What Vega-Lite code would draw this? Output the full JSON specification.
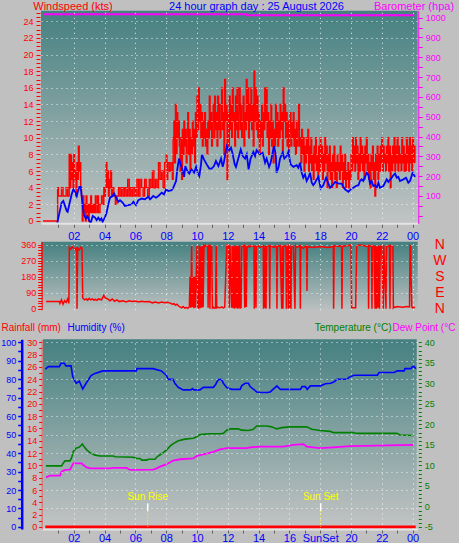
{
"$schema":"https://vega.github.io/schema/vega-lite/v6.json",
"width":459,"height":543,"autosize":{"type":"none"},"padding":0,
"background":"#c0c0c0",
"config":{"view":{"stroke":null},"axis":{"labelFont":"Liberation Sans","titleFont":"Liberation Sans","labelFontSize":9,"titleFontSize":11,"titleFontWeight":"normal","labelOverlap":false,"labelFlush":false,"labelBound":false},"text":{"font":"Liberation Sans"}},
"datasets":{
"one":[{}],
"gust":[{"h":0,"g":0},{"h":0.9,"g":0},{"h":0.95,"g":4},{"h":1.0,"g":3},{"h":1.1,"g":3},{"h":1.2,"g":4},{"h":1.3,"g":3},{"h":1.4,"g":3},{"h":1.5,"g":4},{"h":1.6,"g":3},{"h":1.7,"g":8},{"h":1.75,"g":4},{"h":1.8,"g":8},{"h":1.85,"g":5},{"h":1.9,"g":7},{"h":1.95,"g":4},{"h":2.0,"g":8},{"h":2.05,"g":5},{"h":2.1,"g":6},{"h":2.15,"g":3},{"h":2.2,"g":7},{"h":2.25,"g":5},{"h":2.3,"g":9},{"h":2.35,"g":6},{"h":2.4,"g":7},{"h":2.45,"g":4},{"h":2.5,"g":3},{"h":2.55,"g":0},{"h":2.6,"g":3},{"h":2.65,"g":1},{"h":2.7,"g":2},{"h":2.75,"g":0},{"h":2.8,"g":3},{"h":2.85,"g":1},{"h":2.9,"g":2},{"h":2.95,"g":0},{"h":3.0,"g":2},{"h":3.05,"g":1},{"h":3.1,"g":3},{"h":3.15,"g":1},{"h":3.2,"g":2},{"h":3.25,"g":1},{"h":3.3,"g":2},{"h":3.35,"g":1},{"h":3.4,"g":3},{"h":3.45,"g":2},{"h":3.5,"g":1},{"h":3.55,"g":3},{"h":3.6,"g":1},{"h":3.7,"g":2},{"h":3.8,"g":3},{"h":3.9,"g":2},{"h":3.95,"g":4},{"h":4.0,"g":3},{"h":4.05,"g":4},{"h":4.1,"g":7},{"h":4.15,"g":4},{"h":4.2,"g":6},{"h":4.25,"g":3},{"h":4.3,"g":5},{"h":4.35,"g":4},{"h":4.4,"g":6},{"h":4.45,"g":3},{"h":4.5,"g":4},{"h":4.6,"g":3},{"h":4.7,"g":2},{"h":4.8,"g":3},{"h":4.9,"g":4},{"h":5.0,"g":3},{"h":5.1,"g":4},{"h":5.2,"g":3},{"h":5.3,"g":4},{"h":5.4,"g":3},{"h":5.5,"g":5},{"h":5.6,"g":3},{"h":5.7,"g":4},{"h":5.8,"g":3},{"h":5.9,"g":4},{"h":6.0,"g":3},{"h":6.1,"g":5},{"h":6.2,"g":3},{"h":6.3,"g":5},{"h":6.4,"g":4},{"h":6.5,"g":3},{"h":6.6,"g":5},{"h":6.7,"g":4},{"h":6.8,"g":3},{"h":6.9,"g":5},{"h":7.0,"g":4},{"h":7.1,"g":6},{"h":7.2,"g":4},{"h":7.3,"g":5},{"h":7.4,"g":4},{"h":7.5,"g":7},{"h":7.6,"g":5},{"h":7.7,"g":6},{"h":7.8,"g":4},{"h":7.9,"g":7},{"h":8.0,"g":8},{"h":8.05,"g":5},{"h":8.1,"g":7},{"h":8.2,"g":6},{"h":8.3,"g":7},{"h":8.4,"g":5},{"h":8.45,"g":10},{"h":8.5,"g":12},{"h":8.55,"g":7},{"h":8.6,"g":14},{"h":8.65,"g":8},{"h":8.7,"g":13},{"h":8.75,"g":10},{"h":8.8,"g":12},{"h":8.85,"g":9},{"h":8.9,"g":6},{"h":8.95,"g":10},{"h":9.0,"g":5},{"h":9.05,"g":11},{"h":9.1,"g":8},{"h":9.15,"g":12},{"h":9.2,"g":9},{"h":9.25,"g":11},{"h":9.3,"g":7},{"h":9.35,"g":10},{"h":9.4,"g":13},{"h":9.45,"g":8},{"h":9.5,"g":11},{"h":9.55,"g":6},{"h":9.6,"g":10},{"h":9.65,"g":8},{"h":9.7,"g":12},{"h":9.75,"g":9},{"h":9.8,"g":11},{"h":9.85,"g":7},{"h":9.9,"g":13},{"h":9.95,"g":10},{"h":10.0,"g":15},{"h":10.05,"g":11},{"h":10.1,"g":16},{"h":10.15,"g":12},{"h":10.2,"g":14},{"h":10.25,"g":10},{"h":10.3,"g":13},{"h":10.35,"g":9},{"h":10.4,"g":12},{"h":10.45,"g":10},{"h":10.5,"g":13},{"h":10.55,"g":9},{"h":10.6,"g":11},{"h":10.65,"g":8},{"h":10.7,"g":12},{"h":10.75,"g":10},{"h":10.8,"g":15},{"h":10.85,"g":11},{"h":10.9,"g":13},{"h":10.95,"g":9},{"h":11.0,"g":12},{"h":11.05,"g":14},{"h":11.1,"g":10},{"h":11.15,"g":15},{"h":11.2,"g":11},{"h":11.25,"g":13},{"h":11.3,"g":9},{"h":11.35,"g":15},{"h":11.4,"g":11},{"h":11.45,"g":14},{"h":11.5,"g":10},{"h":11.55,"g":12},{"h":11.6,"g":16},{"h":11.65,"g":11},{"h":11.7,"g":13},{"h":11.75,"g":8},{"h":11.8,"g":17},{"h":11.85,"g":12},{"h":11.9,"g":14},{"h":11.95,"g":5},{"h":12.0,"g":13},{"h":12.05,"g":9},{"h":12.1,"g":15},{"h":12.15,"g":11},{"h":12.2,"g":14},{"h":12.25,"g":10},{"h":12.3,"g":16},{"h":12.35,"g":12},{"h":12.4,"g":13},{"h":12.45,"g":9},{"h":12.5,"g":15},{"h":12.55,"g":11},{"h":12.6,"g":16},{"h":12.65,"g":10},{"h":12.7,"g":13},{"h":12.75,"g":16},{"h":12.8,"g":11},{"h":12.85,"g":14},{"h":12.9,"g":10},{"h":12.95,"g":12},{"h":13.0,"g":15},{"h":13.05,"g":9},{"h":13.1,"g":13},{"h":13.15,"g":11},{"h":13.2,"g":17},{"h":13.25,"g":12},{"h":13.3,"g":16},{"h":13.35,"g":10},{"h":13.4,"g":14},{"h":13.45,"g":12},{"h":13.5,"g":16},{"h":13.55,"g":11},{"h":13.6,"g":14},{"h":13.65,"g":9},{"h":13.7,"g":18},{"h":13.75,"g":12},{"h":13.8,"g":16},{"h":13.85,"g":11},{"h":13.9,"g":15},{"h":13.95,"g":10},{"h":14.0,"g":13},{"h":14.05,"g":8},{"h":14.1,"g":12},{"h":14.15,"g":10},{"h":14.2,"g":14},{"h":14.25,"g":9},{"h":14.3,"g":13},{"h":14.35,"g":11},{"h":14.4,"g":16},{"h":14.45,"g":12},{"h":14.5,"g":16},{"h":14.55,"g":10},{"h":14.6,"g":13},{"h":14.65,"g":8},{"h":14.7,"g":12},{"h":14.75,"g":10},{"h":14.8,"g":14},{"h":14.85,"g":9},{"h":14.9,"g":12},{"h":14.95,"g":7},{"h":15.0,"g":11},{"h":15.05,"g":9},{"h":15.1,"g":14},{"h":15.15,"g":10},{"h":15.2,"g":13},{"h":15.25,"g":9},{"h":15.3,"g":12},{"h":15.35,"g":10},{"h":15.4,"g":14},{"h":15.45,"g":11},{"h":15.5,"g":13},{"h":15.55,"g":8},{"h":15.6,"g":16},{"h":15.65,"g":12},{"h":15.7,"g":14},{"h":15.75,"g":10},{"h":15.8,"g":13},{"h":15.85,"g":9},{"h":15.9,"g":12},{"h":15.95,"g":8},{"h":16.0,"g":11},{"h":16.05,"g":13},{"h":16.1,"g":9},{"h":16.15,"g":12},{"h":16.2,"g":10},{"h":16.25,"g":13},{"h":16.3,"g":9},{"h":16.35,"g":11},{"h":16.4,"g":8},{"h":16.45,"g":12},{"h":16.5,"g":9},{"h":16.55,"g":11},{"h":16.6,"g":14},{"h":16.65,"g":9},{"h":16.7,"g":10},{"h":16.75,"g":7},{"h":16.8,"g":11},{"h":16.85,"g":8},{"h":16.9,"g":10},{"h":16.95,"g":6},{"h":17.0,"g":9},{"h":17.05,"g":7},{"h":17.1,"g":10},{"h":17.15,"g":8},{"h":17.2,"g":11},{"h":17.25,"g":6},{"h":17.3,"g":9},{"h":17.35,"g":7},{"h":17.4,"g":10},{"h":17.45,"g":6},{"h":17.5,"g":8},{"h":17.55,"g":5},{"h":17.6,"g":9},{"h":17.65,"g":7},{"h":17.7,"g":10},{"h":17.75,"g":6},{"h":17.8,"g":8},{"h":17.85,"g":5},{"h":17.9,"g":9},{"h":17.95,"g":6},{"h":18.0,"g":10},{"h":18.05,"g":7},{"h":18.1,"g":9},{"h":18.15,"g":5},{"h":18.2,"g":8},{"h":18.25,"g":6},{"h":18.3,"g":10},{"h":18.35,"g":7},{"h":18.4,"g":9},{"h":18.45,"g":4},{"h":18.5,"g":8},{"h":18.55,"g":6},{"h":18.6,"g":9},{"h":18.65,"g":5},{"h":18.7,"g":7},{"h":18.75,"g":4},{"h":18.8,"g":8},{"h":18.85,"g":6},{"h":18.9,"g":9},{"h":18.95,"g":5},{"h":19.0,"g":7},{"h":19.05,"g":4},{"h":19.1,"g":8},{"h":19.15,"g":6},{"h":19.2,"g":7},{"h":19.25,"g":5},{"h":19.3,"g":9},{"h":19.35,"g":6},{"h":19.4,"g":8},{"h":19.45,"g":4},{"h":19.5,"g":7},{"h":19.55,"g":5},{"h":19.6,"g":8},{"h":19.65,"g":4},{"h":19.7,"g":6},{"h":19.75,"g":5},{"h":19.8,"g":7},{"h":19.85,"g":4},{"h":19.9,"g":6},{"h":19.95,"g":5},{"h":20.0,"g":8},{"h":20.05,"g":6},{"h":20.1,"g":10},{"h":20.15,"g":7},{"h":20.2,"g":9},{"h":20.25,"g":6},{"h":20.3,"g":10},{"h":20.35,"g":7},{"h":20.4,"g":9},{"h":20.45,"g":5},{"h":20.5,"g":8},{"h":20.55,"g":6},{"h":20.6,"g":10},{"h":20.65,"g":7},{"h":20.7,"g":9},{"h":20.75,"g":6},{"h":20.8,"g":8},{"h":20.85,"g":5},{"h":20.9,"g":9},{"h":20.95,"g":7},{"h":21.0,"g":10},{"h":21.05,"g":6},{"h":21.1,"g":8},{"h":21.15,"g":5},{"h":21.2,"g":7},{"h":21.25,"g":4},{"h":21.3,"g":8},{"h":21.35,"g":6},{"h":21.4,"g":9},{"h":21.45,"g":5},{"h":21.5,"g":7},{"h":21.55,"g":3},{"h":21.6,"g":8},{"h":21.65,"g":6},{"h":21.7,"g":9},{"h":21.75,"g":5},{"h":21.8,"g":8},{"h":21.85,"g":6},{"h":21.9,"g":9},{"h":21.95,"g":7},{"h":22.0,"g":10},{"h":22.05,"g":6},{"h":22.1,"g":9},{"h":22.15,"g":7},{"h":22.2,"g":8},{"h":22.25,"g":6},{"h":22.3,"g":9},{"h":22.35,"g":7},{"h":22.4,"g":10},{"h":22.45,"g":6},{"h":22.5,"g":9},{"h":22.55,"g":4},{"h":22.6,"g":8},{"h":22.65,"g":6},{"h":22.7,"g":9},{"h":22.75,"g":7},{"h":22.8,"g":10},{"h":22.85,"g":6},{"h":22.9,"g":9},{"h":22.95,"g":7},{"h":23.0,"g":10},{"h":23.05,"g":6},{"h":23.1,"g":9},{"h":23.15,"g":7},{"h":23.2,"g":8},{"h":23.25,"g":6},{"h":23.3,"g":10},{"h":23.35,"g":7},{"h":23.4,"g":9},{"h":23.45,"g":6},{"h":23.5,"g":8},{"h":23.55,"g":6},{"h":23.6,"g":10},{"h":23.65,"g":7},{"h":23.7,"g":9},{"h":23.75,"g":6},{"h":23.8,"g":10},{"h":23.85,"g":7},{"h":23.9,"g":9},{"h":23.95,"g":6},{"h":24.0,"g":10},{"h":24.05,"g":7},{"h":24.1,"g":9},{"h":24.15,"g":7}],
"avg":[{"h":0.93,"a":-0.2},{"h":1.21,"a":2.2},{"h":1.32,"a":2.4},{"h":1.54,"a":1.2},{"h":1.6,"a":1.1},{"h":1.86,"a":3.2},{"h":1.97,"a":3.8},{"h":2.08,"a":3.5},{"h":2.19,"a":3.0},{"h":2.23,"a":3.3},{"h":2.36,"a":4.1},{"h":2.45,"a":4.1},{"h":2.51,"a":3.0},{"h":2.58,"a":1.8},{"h":2.66,"a":0.7},{"h":2.79,"a":0.3},{"h":2.88,"a":0.6},{"h":3.01,"a":0.0},{"h":3.1,"a":-0.2},{"h":3.23,"a":0.6},{"h":3.38,"a":0.4},{"h":3.48,"a":0.1},{"h":3.59,"a":0.4},{"h":3.7,"a":0.1},{"h":3.79,"a":0.3},{"h":3.87,"a":-0.1},{"h":4.03,"a":0.5},{"h":4.13,"a":1.0},{"h":4.24,"a":2.0},{"h":4.35,"a":2.8},{"h":4.52,"a":3.0},{"h":4.61,"a":3.3},{"h":4.78,"a":2.7},{"h":4.89,"a":2.3},{"h":5.0,"a":2.5},{"h":5.17,"a":2.2},{"h":5.32,"a":1.8},{"h":5.54,"a":1.9},{"h":5.76,"a":2.0},{"h":5.87,"a":2.3},{"h":6.04,"a":1.9},{"h":6.19,"a":2.5},{"h":6.41,"a":2.7},{"h":6.62,"a":2.6},{"h":6.84,"a":2.9},{"h":6.95,"a":2.6},{"h":7.16,"a":3.0},{"h":7.34,"a":2.8},{"h":7.49,"a":3.0},{"h":7.71,"a":3.4},{"h":7.86,"a":3.2},{"h":7.99,"a":3.8},{"h":8.14,"a":3.6},{"h":8.35,"a":3.7},{"h":8.46,"a":4.0},{"h":8.64,"a":4.8},{"h":8.72,"a":6.2},{"h":8.83,"a":7.5},{"h":8.94,"a":6.8},{"h":9.07,"a":6.0},{"h":9.16,"a":5.3},{"h":9.24,"a":6.6},{"h":9.37,"a":6.0},{"h":9.5,"a":5.7},{"h":9.65,"a":6.2},{"h":9.81,"a":5.8},{"h":9.94,"a":6.5},{"h":10.04,"a":5.8},{"h":10.15,"a":5.4},{"h":10.26,"a":6.8},{"h":10.32,"a":8.0},{"h":10.45,"a":7.4},{"h":10.63,"a":6.8},{"h":10.8,"a":6.3},{"h":10.95,"a":6.3},{"h":11.1,"a":6.6},{"h":11.23,"a":7.2},{"h":11.39,"a":6.6},{"h":11.56,"a":7.5},{"h":11.67,"a":6.5},{"h":11.75,"a":7.1},{"h":11.93,"a":9.0},{"h":12.1,"a":8.5},{"h":12.21,"a":8.8},{"h":12.32,"a":8.0},{"h":12.45,"a":6.8},{"h":12.53,"a":6.5},{"h":12.68,"a":7.5},{"h":12.84,"a":8.6},{"h":12.97,"a":7.8},{"h":13.12,"a":7.5},{"h":13.23,"a":8.0},{"h":13.35,"a":6.2},{"h":13.48,"a":7.5},{"h":13.66,"a":8.3},{"h":13.77,"a":7.8},{"h":13.87,"a":8.5},{"h":14.09,"a":8.0},{"h":14.26,"a":8.2},{"h":14.42,"a":7.0},{"h":14.52,"a":7.5},{"h":14.68,"a":6.5},{"h":14.78,"a":7.0},{"h":14.91,"a":8.2},{"h":15.0,"a":9.0},{"h":15.11,"a":8.0},{"h":15.17,"a":5.8},{"h":15.3,"a":6.5},{"h":15.39,"a":7.5},{"h":15.56,"a":8.2},{"h":15.67,"a":7.5},{"h":15.82,"a":7.8},{"h":15.93,"a":8.3},{"h":16.08,"a":6.8},{"h":16.26,"a":6.5},{"h":16.47,"a":6.7},{"h":16.58,"a":6.4},{"h":16.69,"a":7.0},{"h":16.8,"a":5.8},{"h":16.9,"a":5.2},{"h":17.01,"a":5.6},{"h":17.12,"a":4.8},{"h":17.23,"a":5.2},{"h":17.34,"a":5.8},{"h":17.45,"a":4.6},{"h":17.55,"a":4.3},{"h":17.66,"a":4.6},{"h":17.77,"a":5.0},{"h":17.88,"a":5.3},{"h":18.03,"a":3.9},{"h":18.2,"a":4.3},{"h":18.38,"a":5.2},{"h":18.53,"a":4.5},{"h":18.64,"a":4.0},{"h":18.81,"a":4.3},{"h":18.96,"a":4.7},{"h":19.18,"a":4.5},{"h":19.39,"a":4.5},{"h":19.5,"a":4.1},{"h":19.61,"a":3.8},{"h":19.83,"a":3.5},{"h":19.98,"a":3.8},{"h":20.15,"a":4.0},{"h":20.32,"a":4.2},{"h":20.48,"a":4.3},{"h":20.58,"a":4.8},{"h":20.69,"a":5.0},{"h":20.8,"a":4.8},{"h":20.91,"a":5.3},{"h":21.02,"a":5.8},{"h":21.13,"a":5.5},{"h":21.23,"a":4.5},{"h":21.34,"a":4.8},{"h":21.45,"a":4.2},{"h":21.56,"a":4.3},{"h":21.67,"a":4.0},{"h":21.78,"a":4.6},{"h":21.88,"a":4.0},{"h":22.1,"a":4.2},{"h":22.32,"a":5.0},{"h":22.42,"a":4.7},{"h":22.64,"a":5.2},{"h":22.75,"a":5.5},{"h":22.86,"a":5.7},{"h":22.97,"a":5.2},{"h":23.07,"a":5.3},{"h":23.18,"a":4.8},{"h":23.4,"a":5.0},{"h":23.57,"a":5.2},{"h":23.72,"a":4.6},{"h":23.83,"a":4.8},{"h":24.0,"a":5.8},{"h":24.16,"a":5.3}],
"baro":[{"h":0.0,"p":1017},{"h":13.2,"p":1017},{"h":13.21,"p":1012},{"h":24.1,"p":1012}],
"dir":[{"h":0.2,"d":40},{"h":1.06,"d":40},{"h":1.1,"d":30},{"h":1.2,"d":50},{"h":1.3,"d":25},{"h":1.4,"d":45},{"h":1.5,"d":35},{"h":1.6,"d":55},{"h":1.68,"d":30},{"h":1.71,"d":345},{"h":1.8,"d":335},{"h":1.9,"d":350},{"h":2.0,"d":340},{"h":2.1,"d":330},{"h":2.19,"d":345},{"h":2.21,"d":0},{"h":2.25,"d":340},{"h":2.35,"d":330},{"h":2.45,"d":345},{"h":2.53,"d":340},{"h":2.58,"d":60},{"h":2.7,"d":50},{"h":2.8,"d":55},{"h":2.9,"d":48},{"h":3.0,"d":58},{"h":3.1,"d":50},{"h":3.2,"d":55},{"h":3.3,"d":48},{"h":3.4,"d":52},{"h":3.5,"d":47},{"h":3.6,"d":55},{"h":3.8,"d":50},{"h":3.95,"d":75},{"h":4.05,"d":60},{"h":4.2,"d":55},{"h":4.35,"d":45},{"h":4.5,"d":55},{"h":4.65,"d":42},{"h":4.8,"d":50},{"h":4.95,"d":40},{"h":5.2,"d":45},{"h":5.4,"d":38},{"h":5.6,"d":44},{"h":5.8,"d":40},{"h":6.0,"d":43},{"h":6.2,"d":38},{"h":6.4,"d":42},{"h":6.6,"d":39},{"h":6.9,"d":40},{"h":7.1,"d":33},{"h":7.3,"d":38},{"h":7.5,"d":32},{"h":7.7,"d":37},{"h":7.9,"d":33},{"h":8.1,"d":36},{"h":8.3,"d":30},{"h":8.4,"d":25},{"h":8.5,"d":28},{"h":8.6,"d":20},{"h":8.7,"d":25},{"h":8.8,"d":15},{"h":8.9,"d":10},{"h":9.0,"d":5},{"h":9.1,"d":12},{"h":9.2,"d":3},{"h":9.3,"d":8},{"h":9.4,"d":2},{"h":9.5,"d":10},{"h":9.55,"d":180},{"h":9.6,"d":5},{"h":9.65,"d":355},{"h":9.7,"d":8},{"h":9.75,"d":180},{"h":9.8,"d":3},{"h":9.85,"d":180},{"h":9.9,"d":6},{"h":10.0,"d":355},{"h":10.05,"d":10},{"h":10.1,"d":5},{"h":10.15,"d":355},{"h":10.2,"d":3},{"h":10.25,"d":350},{"h":10.3,"d":5},{"h":10.35,"d":355},{"h":10.4,"d":8},{"h":10.45,"d":355},{"h":10.5,"d":350},{"h":10.55,"d":358},{"h":10.6,"d":352},{"h":10.7,"d":355},{"h":10.72,"d":5},{"h":10.75,"d":350},{"h":10.8,"d":355},{"h":10.84,"d":0},{"h":10.87,"d":355},{"h":10.95,"d":350},{"h":11.0,"d":5},{"h":11.05,"d":10},{"h":11.1,"d":3},{"h":11.2,"d":5},{"h":11.25,"d":355},{"h":11.28,"d":5},{"h":11.35,"d":8},{"h":11.5,"d":5},{"h":11.6,"d":10},{"h":11.7,"d":5},{"h":11.8,"d":8},{"h":11.93,"d":355},{"h":12.0,"d":350},{"h":12.05,"d":355},{"h":12.1,"d":5},{"h":12.14,"d":355},{"h":12.2,"d":180},{"h":12.25,"d":5},{"h":12.3,"d":355},{"h":12.35,"d":3},{"h":12.4,"d":350},{"h":12.45,"d":0},{"h":12.5,"d":355},{"h":12.53,"d":5},{"h":12.56,"d":358},{"h":12.6,"d":2},{"h":12.63,"d":355},{"h":12.66,"d":0},{"h":12.7,"d":350},{"h":12.73,"d":5},{"h":12.76,"d":355},{"h":12.8,"d":0},{"h":12.83,"d":180},{"h":12.86,"d":3},{"h":12.9,"d":355},{"h":13.0,"d":350},{"h":13.05,"d":355},{"h":13.1,"d":5},{"h":13.15,"d":355},{"h":13.2,"d":10},{"h":13.25,"d":350},{"h":13.3,"d":355},{"h":13.4,"d":345},{"h":13.5,"d":355},{"h":13.7,"d":350},{"h":13.72,"d":0},{"h":13.75,"d":355},{"h":13.83,"d":5},{"h":13.86,"d":350},{"h":13.95,"d":355},{"h":14.1,"d":345},{"h":14.3,"d":355},{"h":14.32,"d":0},{"h":14.36,"d":350},{"h":14.4,"d":5},{"h":14.44,"d":355},{"h":14.48,"d":0},{"h":14.52,"d":350},{"h":14.6,"d":355},{"h":14.7,"d":350},{"h":14.72,"d":0},{"h":14.75,"d":355},{"h":15.0,"d":345},{"h":15.17,"d":355},{"h":15.19,"d":0},{"h":15.22,"d":350},{"h":15.4,"d":355},{"h":15.5,"d":0},{"h":15.53,"d":355},{"h":15.58,"d":0},{"h":15.62,"d":350},{"h":15.78,"d":355},{"h":15.8,"d":0},{"h":15.83,"d":350},{"h":15.9,"d":355},{"h":15.93,"d":0},{"h":15.96,"d":355},{"h":16.0,"d":5},{"h":16.03,"d":350},{"h":16.1,"d":0},{"h":16.13,"d":355},{"h":16.26,"d":350},{"h":16.36,"d":0},{"h":16.4,"d":355},{"h":16.5,"d":345},{"h":16.69,"d":355},{"h":16.71,"d":0},{"h":16.74,"d":350},{"h":16.9,"d":340},{"h":17.12,"d":355},{"h":17.14,"d":100},{"h":17.17,"d":350},{"h":17.5,"d":345},{"h":18.0,"d":350},{"h":18.5,"d":345},{"h":18.85,"d":350},{"h":18.87,"d":0},{"h":18.9,"d":355},{"h":19.2,"d":350},{"h":19.39,"d":355},{"h":19.41,"d":0},{"h":19.44,"d":350},{"h":19.8,"d":355},{"h":20.0,"d":358},{"h":20.04,"d":5},{"h":20.3,"d":5},{"h":20.37,"d":355},{"h":20.6,"d":358},{"h":20.8,"d":355},{"h":21.0,"d":350},{"h":21.12,"d":355},{"h":21.14,"d":0},{"h":21.17,"d":355},{"h":21.34,"d":350},{"h":21.36,"d":0},{"h":21.39,"d":355},{"h":21.5,"d":350},{"h":21.56,"d":0},{"h":21.6,"d":355},{"h":21.65,"d":0},{"h":21.7,"d":350},{"h":21.75,"d":5},{"h":21.8,"d":355},{"h":21.85,"d":0},{"h":21.9,"d":350},{"h":22.0,"d":355},{"h":22.1,"d":0},{"h":22.13,"d":355},{"h":22.27,"d":0},{"h":22.3,"d":350},{"h":22.5,"d":355},{"h":22.53,"d":0},{"h":22.56,"d":355},{"h":22.72,"d":350},{"h":22.75,"d":5},{"h":22.8,"d":10},{"h":22.9,"d":8},{"h":23.0,"d":12},{"h":23.2,"d":10},{"h":23.4,"d":8},{"h":23.6,"d":12},{"h":23.8,"d":10},{"h":23.83,"d":355},{"h":23.88,"d":350},{"h":23.9,"d":180},{"h":23.95,"d":10},{"h":24.0,"d":5},{"h":24.1,"d":8},{"h":24.15,"d":5}],
"hum":[{"h":0.15,"u":85.5},{"h":0.35,"u":86.8},{"h":1.06,"u":86.8},{"h":1.17,"u":88.6},{"h":1.38,"u":88.6},{"h":1.49,"u":87.2},{"h":1.82,"u":87.2},{"h":1.93,"u":81.4},{"h":2.15,"u":77.8},{"h":2.36,"u":78.9},{"h":2.58,"u":74.7},{"h":2.8,"u":77.8},{"h":3.12,"u":81.9},{"h":3.34,"u":83},{"h":3.88,"u":84.5},{"h":6.06,"u":84.5},{"h":6.1,"u":85.7},{"h":7.15,"u":85.7},{"h":7.69,"u":84.5},{"h":8.02,"u":82},{"h":8.12,"u":79.9},{"h":8.45,"u":79.9},{"h":8.56,"u":77.8},{"h":8.78,"u":75.6},{"h":9.1,"u":74.2},{"h":9.6,"u":74.2},{"h":9.7,"u":74.9},{"h":9.8,"u":74.2},{"h":10.19,"u":74.2},{"h":10.41,"u":75.6},{"h":11.06,"u":75.6},{"h":11.2,"u":77},{"h":11.38,"u":79.8},{"h":11.6,"u":79.8},{"h":11.71,"u":77.8},{"h":11.93,"u":75.4},{"h":12.25,"u":74.5},{"h":12.8,"u":74.5},{"h":12.9,"u":76.4},{"h":13.12,"u":77.8},{"h":13.34,"u":77.8},{"h":13.45,"u":76},{"h":13.88,"u":73.1},{"h":14.1,"u":72.8},{"h":14.54,"u":72.8},{"h":14.75,"u":73.1},{"h":15.19,"u":76.4},{"h":15.41,"u":74.5},{"h":16.71,"u":74.5},{"h":16.82,"u":76},{"h":17.04,"u":76},{"h":17.15,"u":74.5},{"h":17.36,"u":76.4},{"h":18.02,"u":76.4},{"h":18.34,"u":77.5},{"h":18.67,"u":77.8},{"h":18.89,"u":78.5},{"h":19.1,"u":80},{"h":19.75,"u":80},{"h":19.86,"u":81},{"h":20.19,"u":82.1},{"h":21.71,"u":82.1},{"h":21.82,"u":83.6},{"h":22.8,"u":83.6},{"h":23.0,"u":84.5},{"h":23.45,"u":84.5},{"h":23.5,"u":85.7},{"h":23.88,"u":85.7},{"h":23.99,"u":86.8},{"h":24.1,"u":86.8},{"h":24.21,"u":85.7}],
"temp":[{"h":0.19,"t":9.9},{"h":1.21,"t":9.9},{"h":1.32,"t":10.6},{"h":1.43,"t":11.1},{"h":1.75,"t":11.1},{"h":1.86,"t":11.9},{"h":1.97,"t":13.4},{"h":2.14,"t":14.2},{"h":2.34,"t":14.4},{"h":2.45,"t":14.8},{"h":2.55,"t":15.2},{"h":2.66,"t":14.6},{"h":2.84,"t":13.8},{"h":3.05,"t":13.1},{"h":3.38,"t":12.5},{"h":3.7,"t":12.3},{"h":4.57,"t":12.3},{"h":4.68,"t":12.1},{"h":5.87,"t":12.0},{"h":6.08,"t":11.7},{"h":6.3,"t":11.7},{"h":6.41,"t":11.3},{"h":6.73,"t":11.3},{"h":6.84,"t":11.5},{"h":7.27,"t":11.5},{"h":7.38,"t":12.0},{"h":7.6,"t":12.6},{"h":7.81,"t":13.1},{"h":8.03,"t":13.8},{"h":8.25,"t":14.7},{"h":8.46,"t":15.3},{"h":8.79,"t":16.0},{"h":9.22,"t":16.4},{"h":9.76,"t":16.6},{"h":9.98,"t":17.0},{"h":10.19,"t":17.5},{"h":10.84,"t":17.7},{"h":11.49,"t":17.7},{"h":11.71,"t":17.8},{"h":11.93,"t":18.6},{"h":12.14,"t":18.9},{"h":12.68,"t":18.9},{"h":12.9,"t":18.6},{"h":13.33,"t":18.5},{"h":13.66,"t":18.8},{"h":13.87,"t":19.6},{"h":14.52,"t":19.6},{"h":14.85,"t":19.4},{"h":15.17,"t":18.9},{"h":15.5,"t":19.2},{"h":16.04,"t":19.4},{"h":17.12,"t":19.4},{"h":17.45,"t":18.8},{"h":17.99,"t":18.5},{"h":18.64,"t":18.3},{"h":18.85,"t":18.0},{"h":20.15,"t":18.0},{"h":20.37,"t":17.8},{"h":22.97,"t":17.8},{"h":23.18,"t":17.4},{"h":24.04,"t":17.3}],
"dew":[{"h":0.19,"t":7.1},{"h":0.45,"t":7.5},{"h":1.1,"t":7.5},{"h":1.21,"t":8.5},{"h":1.43,"t":8.9},{"h":1.75,"t":9.0},{"h":1.86,"t":9.7},{"h":1.97,"t":10.5},{"h":2.51,"t":10.5},{"h":2.62,"t":10.1},{"h":2.84,"t":9.5},{"h":3.05,"t":9.3},{"h":4.35,"t":9.3},{"h":4.57,"t":9.4},{"h":5.43,"t":9.4},{"h":5.65,"t":8.9},{"h":7.16,"t":9.0},{"h":7.38,"t":9.3},{"h":7.6,"t":9.7},{"h":8.03,"t":10.3},{"h":8.46,"t":11.2},{"h":8.9,"t":11.5},{"h":9.76,"t":11.7},{"h":9.98,"t":12.3},{"h":10.19,"t":12.5},{"h":10.63,"t":12.9},{"h":11.06,"t":13.3},{"h":11.49,"t":13.9},{"h":11.93,"t":14.2},{"h":13.23,"t":14.2},{"h":13.44,"t":14.4},{"h":14.09,"t":14.6},{"h":15.61,"t":14.6},{"h":16.26,"t":15.0},{"h":16.9,"t":15.2},{"h":17.12,"t":14.6},{"h":17.99,"t":14.2},{"h":18.85,"t":14.4},{"h":19.94,"t":14.7},{"h":24.04,"t":15.0}],
"rain":[{"h":0.15,"r":0},{"h":24.2,"r":0}],
"sun":[{"h":6.8,"t":"Sun Rise"},{"h":18.03,"t":"Sun Set"}]
},
"layer":[
{"data":{"name":"one"},"mark":{"type":"rect","fill":{"gradient":"linear","x1":0,"y1":0,"x2":0,"y2":1,"stops":[{"offset":0,"color":"#458080"},{"offset":1,"color":"#c2c4c4"}]}},
 "encoding":{
  "x":{"datum":-0.13,"type":"quantitative","scale":{"domain":[-0.13,24.33],"range":[41,417.7],"nice":false,"zero":false},"axis":{"orient":"top","values":[2,4,6,8,10,12,14,16,18,20,22,24],"grid":true,"gridColor":"#ffffff","gridDash":[1,4],"gridOpacity":0.85,"labels":false,"ticks":false,"domain":false,"title":null,"zindex":1}},
  "x2":{"datum":24.33},
  "y":{"datum":-0.28,"type":"quantitative","scale":{"domain":[-0.28,25.27],"range":[223.3,10.7],"nice":false,"zero":false},"axis":{"orient":"left","offset":-40,"values":[0,0.5,1,1.5,2,2.5,3,3.5,4,4.5,5,5.5,6,6.5,7,7.5,8,8.5,9,9.5,10,10.5,11,11.5,12,12.5,13,13.5,14,14.5,15,15.5,16,16.5,17,17.5,18,18.5,19,19.5,20,20.5,21,21.5,22,22.5,23,23.5,24,24.5,25],"labelExpr":"datum.value % 2 === 0 ? datum.value : ''","labelColor":"#ff0000","labelPadding":3,"tickColor":"#ff0000","tickSize":4,"domain":false,"grid":true,"gridColor":"#ffffff","gridDash":[1,4],"gridOpacity":{"condition":{"test":"datum.value % 2 === 0 && datum.value > 0","value":0.85},"value":0},"title":"Windspeed (kts)","titleColor":"#ff0000","titleAngle":0,"titleAlign":"center","titleBaseline":"middle","titleX":32.5,"titleY":6,"zindex":1}},
  "y2":{"datum":25.27}
 }},
{"data":{"name":"gust"},"mark":{"type":"line","color":"#ff0000","strokeWidth":1.4,"interpolate":"step-after"},
 "encoding":{
  "x":{"field":"h","type":"quantitative","scale":{"domain":[-0.13,24.33],"range":[41,417.7],"nice":false,"zero":false},"axis":{"orient":"bottom","offset":-319.7,"values":[1,2,3,4,5,6,7,8,9,10,11,12,13,14,15,16,17,18,19,20,21,22,23,24],"labelExpr":"datum.value % 2 === 0 ? (datum.value === 24 ? '00' : (datum.value < 10 ? '0' + datum.value : '' + datum.value)) : ''","labelColor":"#0000ff","labelFontSize":11,"labelPadding":3,"tickColor":"#606060","tickSize":4,"domain":true,"domainColor":"#e4e4e4","domainWidth":2,"grid":false,"title":"24 hour graph day : 25 August 2026","titleColor":"#0000ff","titleX":256,"titleY":-217.3,"titleAlign":"center","titleBaseline":"middle","zindex":1}},
  "y":{"field":"g","type":"quantitative","scale":{"domain":[-0.28,25.27],"range":[223.3,10.7],"nice":false,"zero":false},"axis":null}
 }},
{"data":{"name":"avg"},"mark":{"type":"line","color":"#0000ff","strokeWidth":1.8},
 "encoding":{
  "x":{"field":"h","type":"quantitative","scale":{"domain":[-0.13,24.33],"range":[41,417.7],"nice":false,"zero":false},"axis":null},
  "y":{"field":"a","type":"quantitative","scale":{"domain":[-0.28,25.27],"range":[223.3,10.7],"nice":false,"zero":false},"axis":null}
 }},
{"data":{"name":"baro"},"mark":{"type":"line","color":"#ff00ff","strokeWidth":2},
 "encoding":{
  "x":{"field":"h","type":"quantitative","scale":{"domain":[-0.13,24.33],"range":[41,417.7],"nice":false,"zero":false},"axis":null},
  "y":{"field":"p","type":"quantitative","scale":{"domain":[-38,1035],"range":[223.3,10.7],"nice":false,"zero":false},"axis":{"orient":"right","offset":-40.7,"values":[0,50,100,150,200,250,300,350,400,450,500,550,600,650,700,750,800,850,900,950,1000],"labelExpr":"datum.value % 100 === 0 && datum.value >= 100 ? datum.value : ''","labelColor":"#ff00ff","labelPadding":3,"tickColor":"#ff00ff","tickSize":4,"domain":true,"domainColor":"#ff00ff","grid":false,"title":"Barometer (hpa)","titleColor":"#ff00ff","titleAngle":0,"titleAlign":"center","titleBaseline":"middle","titleX":-4.8,"titleY":6,"zindex":1}}
 }},
{"data":{"name":"one"},"mark":{"type":"rect","fill":{"gradient":"linear","x1":0,"y1":0,"x2":0,"y2":1,"stops":[{"offset":0,"color":"#458080"},{"offset":1,"color":"#bcc0c0"}]}},
 "encoding":{
  "x":{"datum":-0.13,"type":"quantitative","scale":{"domain":[-0.13,24.33],"range":[41,417.7],"nice":false,"zero":false},"axis":{"orient":"top","values":[2,4,6,8,10,12,14,16,18,20,22,24],"grid":true,"gridColor":"#ffffff","gridDash":[1,4],"gridOpacity":0.85,"labels":false,"ticks":false,"domain":false,"title":null,"zindex":1}},
  "x2":{"datum":24.33},
  "y":{"datum":-5.6,"type":"quantitative","scale":{"domain":[-5.6,376.9],"range":[309.7,241.7],"nice":false,"zero":false},"axis":{"orient":"left","offset":-41.7,"values":[0,15,30,45,60,75,90,105,120,135,150,165,180,195,210,225,240,255,270,285,300,315,330,345,360],"labelExpr":"datum.value % 90 === 0 ? datum.value : ''","labelColor":"#ff0000","labelPadding":2,"tickColor":"#ff0000","tickSize":4,"domain":true,"domainColor":"#ff0000","grid":true,"gridColor":"#ffffff","gridDash":[1,4],"gridOpacity":{"condition":{"test":"datum.value % 90 === 0 && datum.value > 0","value":0.85},"value":0},"title":null,"zindex":1}},
  "y2":{"datum":376.9}
 }},
{"data":{"name":"dir"},"mark":{"type":"line","color":"#ff0000","strokeWidth":1.5},
 "encoding":{
  "x":{"field":"h","type":"quantitative","scale":{"domain":[-0.13,24.33],"range":[41,417.7],"nice":false,"zero":false},"axis":null},
  "y":{"field":"d","type":"quantitative","scale":{"domain":[-5.6,376.9],"range":[309.7,241.7],"nice":false,"zero":false},"axis":{"orient":"right","offset":-40.7,"values":[0,90,180,270,360],"labelExpr":"['N','E','S','W','N'][datum.value / 90]","labelColor":"#ff0000","labelFontSize":14,"labelAlign":"center","labelPadding":21,"ticks":false,"domain":false,"grid":false,"title":null,"zindex":1}}
 }},
{"data":{"name":"one"},"mark":{"type":"rect","fill":{"gradient":"linear","x1":0,"y1":0,"x2":0,"y2":1,"stops":[{"offset":0,"color":"#458080"},{"offset":1,"color":"#c4c4c4"}]}},
 "encoding":{
  "x":{"datum":0,"type":"quantitative","scale":{"domain":[-0.13,24.33],"range":[41,417.7],"nice":false,"zero":false},"axis":{"orient":"top","values":[2,4,6,8,10,12,14,16,18,20,22,24],"grid":true,"gridColor":"#ffffff","gridDash":[1,4],"gridOpacity":0.85,"labels":false,"ticks":false,"domain":false,"title":null,"zindex":1}},
  "x2":{"datum":24.27},
  "y":{"datum":-1.1,"type":"quantitative","scale":{"domain":[-1.1,101.6],"range":[529,339.3],"nice":false,"zero":false},"axis":{"orient":"left","offset":-21.7,"values":[0,5,10,15,20,25,30,35,40,45,50,55,60,65,70,75,80,85,90,95,100],"labelExpr":"datum.value % 10 === 0 ? datum.value : ''","labelColor":"#0000ff","labelPadding":2,"tickColor":"#0000ff","tickSize":4,"tickWidth":1.5,"domain":true,"domainColor":"#0000ff","domainWidth":2.5,"grid":true,"gridColor":"#ffffff","gridDash":[1,4],"gridOpacity":{"condition":{"test":"datum.value % 10 === 0 && datum.value > 0","value":0.85},"value":0},"title":"Humidity (%)","titleColor":"#0000ff","titleFontSize":10,"titleAngle":0,"titleAlign":"left","titleBaseline":"middle","titleX":45.3,"titleY":327,"zindex":1}},
  "y2":{"datum":101.6}
 }},
{"data":{"name":"rain"},"mark":{"type":"line","color":"#ff0000","strokeWidth":3},
 "encoding":{
  "x":{"field":"h","type":"quantitative","scale":{"domain":[-0.13,24.33],"range":[41,417.7],"nice":false,"zero":false},"axis":{"orient":"bottom","offset":-14,"values":[1,2,3,4,5,6,7,8,9,10,11,12,13,14,15,16,17,18,19,20,21,22,23,24],"labelExpr":"datum.value === 18 ? 'SunSet' : (datum.value % 2 === 0 ? (datum.value === 24 ? '00' : (datum.value < 10 ? '0' + datum.value : '' + datum.value)) : '')","labelColor":"#0000ff","labelFontSize":11,"labelPadding":-1,"tickColor":"#606060","tickSize":4,"domain":true,"domainColor":"#e4e4e4","domainWidth":2,"grid":false,"title":null,"zindex":1}},
  "y":{"field":"r","type":"quantitative","scale":{"domain":[-0.33,30.49],"range":[529,339.3],"nice":false,"zero":false},"axis":{"orient":"left","offset":-41.7,"values":[0,1,2,3,4,5,6,7,8,9,10,11,12,13,14,15,16,17,18,19,20,21,22,23,24,25,26,27,28,29,30],"labelExpr":"datum.value % 2 === 0 ? datum.value : ''","labelColor":"#ff0000","labelPadding":2,"tickColor":"#ff0000","tickSize":3,"domain":true,"domainColor":"#ff0000","domainDash":[1,1],"grid":false,"title":"Rainfall (mm)","titleColor":"#ff0000","titleFontSize":10,"titleAngle":0,"titleAlign":"left","titleBaseline":"middle","titleX":-40.7,"titleY":327,"zindex":1}}
 }},
{"data":{"name":"hum"},"mark":{"type":"line","color":"#0000ff","strokeWidth":1.6},
 "encoding":{
  "x":{"field":"h","type":"quantitative","scale":{"domain":[-0.13,24.33],"range":[41,417.7],"nice":false,"zero":false},"axis":null},
  "y":{"field":"u","type":"quantitative","scale":{"domain":[-1.1,101.6],"range":[529,339.3],"nice":false,"zero":false},"axis":null}
 }},
{"data":{"name":"temp"},"mark":{"type":"line","color":"#008000","strokeWidth":1.6},
 "encoding":{
  "x":{"field":"h","type":"quantitative","scale":{"domain":[-0.13,24.33],"range":[41,417.7],"nice":false,"zero":false},"axis":null},
  "y":{"field":"t","type":"quantitative","scale":{"domain":[-5.49,40.73],"range":[529,339.3],"nice":false,"zero":false},"axis":{"orient":"right","offset":-40.7,"values":[-5,-4,-3,-2,-1,0,1,2,3,4,5,6,7,8,9,10,11,12,13,14,15,16,17,18,19,20,21,22,23,24,25,26,27,28,29,30,31,32,33,34,35,36,37,38,39,40],"labelExpr":"datum.value % 5 === 0 ? datum.value : ''","labelColor":"#008000","labelPadding":3,"tickColor":"#008000","tickSize":3,"domain":false,"grid":false,"title":"Temperature (°C)","titleColor":"#008000","titleFontSize":10,"titleAngle":0,"titleAlign":"right","titleBaseline":"middle","titleX":-27.3,"titleY":327,"zindex":1}}
 }},
{"data":{"name":"dew"},"mark":{"type":"line","color":"#ff00ff","strokeWidth":1.8},
 "encoding":{
  "x":{"field":"h","type":"quantitative","scale":{"domain":[-0.13,24.33],"range":[41,417.7],"nice":false,"zero":false},"axis":null},
  "y":{"field":"t","type":"quantitative","scale":{"domain":[-5.49,40.73],"range":[529,339.3],"nice":false,"zero":false},"axis":{"orient":"right","offset":-40.7,"labels":false,"ticks":false,"domain":false,"grid":false,"title":"Dew Point (°C","titleColor":"#ff00ff","titleFontSize":10,"titleAngle":0,"titleAlign":"left","titleBaseline":"middle","titleX":-26.3,"titleY":327,"zindex":1}}
 }},
{"data":{"name":"sun"},"mark":{"type":"rule","color":"#ffffff","strokeWidth":1.5},
 "encoding":{
  "x":{"field":"h","type":"quantitative","scale":{"domain":[-0.13,24.33],"range":[41,417.7],"nice":false,"zero":false},"axis":null},
  "y":{"datum":12.8,"type":"quantitative","scale":{"domain":[-1.1,101.6],"range":[529,339.3],"nice":false,"zero":false},"axis":null},
  "y2":{"datum":8.5}
 }},
{"data":{"name":"sun"},"mark":{"type":"rule","color":"#ffff00","strokeWidth":1,"strokeDash":[1,2]},
 "encoding":{
  "x":{"field":"h","type":"quantitative","scale":{"domain":[-0.13,24.33],"range":[41,417.7],"nice":false,"zero":false},"axis":null},
  "y":{"datum":8.5,"type":"quantitative","scale":{"domain":[-1.1,101.6],"range":[529,339.3],"nice":false,"zero":false},"axis":null},
  "y2":{"datum":0}
 }},
{"data":{"name":"sun"},"mark":{"type":"text","color":"#ffff00","fontSize":10,"baseline":"middle","align":"center"},
 "encoding":{
  "x":{"field":"h","type":"quantitative","scale":{"domain":[-0.13,24.33],"range":[41,417.7],"nice":false,"zero":false},"axis":null},
  "y":{"datum":16.1,"type":"quantitative","scale":{"domain":[-1.1,101.6],"range":[529,339.3],"nice":false,"zero":false},"axis":null},
  "text":{"field":"t"}
 }}
],
"resolve":{"scale":{"x":"independent","y":"independent"},"axis":{"x":"independent","y":"independent"}}
}
